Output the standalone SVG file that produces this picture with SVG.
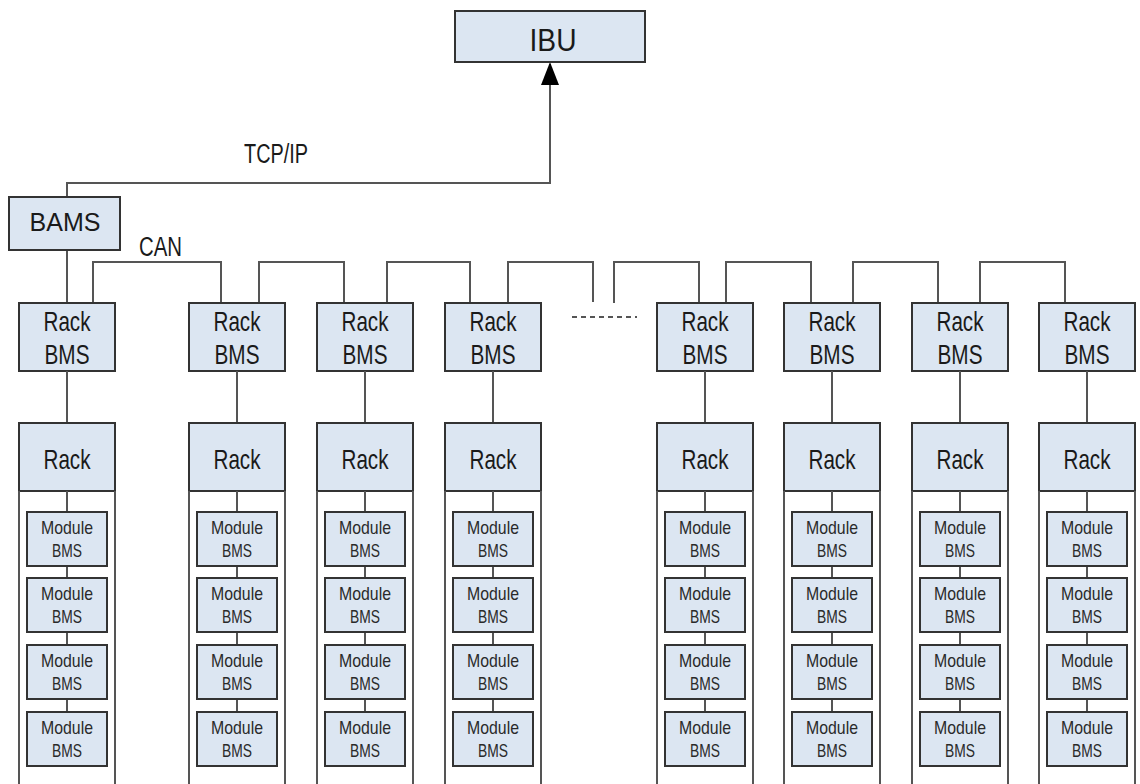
<svg xmlns="http://www.w3.org/2000/svg" width="1140" height="784" viewBox="0 0 1140 784">
<style>
.box{fill:#dce6f2;stroke:#333;stroke-width:2}
.ln{fill:none;stroke:#555;stroke-width:2}
.t{font-family:"Liberation Sans",Arial,sans-serif;fill:#1a1a1a;text-anchor:middle}
.c{font-size:28.5px}
.m{font-size:19px;fill:#2a2a2a}
.lbl{font-family:"Liberation Sans",Arial,sans-serif;fill:#1a1a1a;font-size:27px}
</style>
<defs>
<g id="mod">
<rect class="box" x="0" y="0" width="80" height="54"/>
</g>
</defs>
<rect width="1140" height="784" fill="#fff"/>

<g id="connectors">
<path class="ln" d="M67 250 V183 H550 V64"/>
<path d="M550 62 L559 85 L541 85 Z" fill="#000"/>
<path class="ln" d="M67 250 V303"/>
<path class="ln" d="M93 303 V262 H221 V303"/>
<path class="ln" d="M259 303 V262 H344 V303"/>
<path class="ln" d="M387 303 V262 H470 V303"/>
<path class="ln" d="M508 303 V262 H593 V302"/>
<path class="ln" d="M614 303 V262 H699 V303"/>
<path class="ln" d="M726 303 V262 H811 V303"/>
<path class="ln" d="M853 303 V262 H938 V303"/>
<path class="ln" d="M980 303 V262 H1065 V303"/>
<path class="ln" d="M572 317 H637" stroke="#333" stroke-dasharray="5 4"/>
</g>

<g id="IBU">
<rect class="box" x="455" y="11" width="190" height="51"/>
<text class="t" x="553" y="50.5" font-size="31" textLength="47" lengthAdjust="spacingAndGlyphs">IBU</text>
</g>

<g id="BAMS">
<rect class="box" x="9" y="197" width="111" height="53"/>
<text class="t" x="65" y="231" font-size="25">BAMS</text>
</g>

<text class="lbl" x="244" y="162.5" textLength="64" lengthAdjust="spacingAndGlyphs">TCP/IP</text>
<text class="lbl" x="139" y="256" font-size="25" textLength="43" lengthAdjust="spacingAndGlyphs">CAN</text>

<g id="col1" transform="translate(19,0)">
<rect class="box" x="0" y="303" width="96" height="68"/>
<text class="t c" x="48" y="331" textLength="47" lengthAdjust="spacingAndGlyphs">Rack</text>
<text class="t c" x="48" y="364" textLength="45" lengthAdjust="spacingAndGlyphs">BMS</text>
<path class="ln" d="M48 371 V423"/>
<rect class="box" x="0" y="423" width="96" height="68"/>
<text class="t c" x="48" y="469" textLength="47" lengthAdjust="spacingAndGlyphs">Rack</text>
<path class="ln" d="M0 491 V786 M96 491 V786 M48 491 V512 M48 566 V578 M48 632 V645 M48 699 V712"/>
<g transform="translate(8,512)"><use href="#mod"/><text class="t m" x="40" y="21.5" textLength="52" lengthAdjust="spacingAndGlyphs">Module</text><text class="t m" x="40" y="44.5" textLength="30" lengthAdjust="spacingAndGlyphs">BMS</text></g>
<g transform="translate(8,578)"><use href="#mod"/><text class="t m" x="40" y="21.5" textLength="52" lengthAdjust="spacingAndGlyphs">Module</text><text class="t m" x="40" y="44.5" textLength="30" lengthAdjust="spacingAndGlyphs">BMS</text></g>
<g transform="translate(8,645)"><use href="#mod"/><text class="t m" x="40" y="21.5" textLength="52" lengthAdjust="spacingAndGlyphs">Module</text><text class="t m" x="40" y="44.5" textLength="30" lengthAdjust="spacingAndGlyphs">BMS</text></g>
<g transform="translate(8,712)"><use href="#mod"/><text class="t m" x="40" y="21.5" textLength="52" lengthAdjust="spacingAndGlyphs">Module</text><text class="t m" x="40" y="44.5" textLength="30" lengthAdjust="spacingAndGlyphs">BMS</text></g>
</g>

<g id="col2" transform="translate(189,0)">
<rect class="box" x="0" y="303" width="96" height="68"/>
<text class="t c" x="48" y="331" textLength="47" lengthAdjust="spacingAndGlyphs">Rack</text>
<text class="t c" x="48" y="364" textLength="45" lengthAdjust="spacingAndGlyphs">BMS</text>
<path class="ln" d="M48 371 V423"/>
<rect class="box" x="0" y="423" width="96" height="68"/>
<text class="t c" x="48" y="469" textLength="47" lengthAdjust="spacingAndGlyphs">Rack</text>
<path class="ln" d="M0 491 V786 M96 491 V786 M48 491 V512 M48 566 V578 M48 632 V645 M48 699 V712"/>
<g transform="translate(8,512)"><use href="#mod"/><text class="t m" x="40" y="21.5" textLength="52" lengthAdjust="spacingAndGlyphs">Module</text><text class="t m" x="40" y="44.5" textLength="30" lengthAdjust="spacingAndGlyphs">BMS</text></g>
<g transform="translate(8,578)"><use href="#mod"/><text class="t m" x="40" y="21.5" textLength="52" lengthAdjust="spacingAndGlyphs">Module</text><text class="t m" x="40" y="44.5" textLength="30" lengthAdjust="spacingAndGlyphs">BMS</text></g>
<g transform="translate(8,645)"><use href="#mod"/><text class="t m" x="40" y="21.5" textLength="52" lengthAdjust="spacingAndGlyphs">Module</text><text class="t m" x="40" y="44.5" textLength="30" lengthAdjust="spacingAndGlyphs">BMS</text></g>
<g transform="translate(8,712)"><use href="#mod"/><text class="t m" x="40" y="21.5" textLength="52" lengthAdjust="spacingAndGlyphs">Module</text><text class="t m" x="40" y="44.5" textLength="30" lengthAdjust="spacingAndGlyphs">BMS</text></g>
</g>

<g id="col3" transform="translate(317,0)">
<rect class="box" x="0" y="303" width="96" height="68"/>
<text class="t c" x="48" y="331" textLength="47" lengthAdjust="spacingAndGlyphs">Rack</text>
<text class="t c" x="48" y="364" textLength="45" lengthAdjust="spacingAndGlyphs">BMS</text>
<path class="ln" d="M48 371 V423"/>
<rect class="box" x="0" y="423" width="96" height="68"/>
<text class="t c" x="48" y="469" textLength="47" lengthAdjust="spacingAndGlyphs">Rack</text>
<path class="ln" d="M0 491 V786 M96 491 V786 M48 491 V512 M48 566 V578 M48 632 V645 M48 699 V712"/>
<g transform="translate(8,512)"><use href="#mod"/><text class="t m" x="40" y="21.5" textLength="52" lengthAdjust="spacingAndGlyphs">Module</text><text class="t m" x="40" y="44.5" textLength="30" lengthAdjust="spacingAndGlyphs">BMS</text></g>
<g transform="translate(8,578)"><use href="#mod"/><text class="t m" x="40" y="21.5" textLength="52" lengthAdjust="spacingAndGlyphs">Module</text><text class="t m" x="40" y="44.5" textLength="30" lengthAdjust="spacingAndGlyphs">BMS</text></g>
<g transform="translate(8,645)"><use href="#mod"/><text class="t m" x="40" y="21.5" textLength="52" lengthAdjust="spacingAndGlyphs">Module</text><text class="t m" x="40" y="44.5" textLength="30" lengthAdjust="spacingAndGlyphs">BMS</text></g>
<g transform="translate(8,712)"><use href="#mod"/><text class="t m" x="40" y="21.5" textLength="52" lengthAdjust="spacingAndGlyphs">Module</text><text class="t m" x="40" y="44.5" textLength="30" lengthAdjust="spacingAndGlyphs">BMS</text></g>
</g>

<g id="col4" transform="translate(445,0)">
<rect class="box" x="0" y="303" width="96" height="68"/>
<text class="t c" x="48" y="331" textLength="47" lengthAdjust="spacingAndGlyphs">Rack</text>
<text class="t c" x="48" y="364" textLength="45" lengthAdjust="spacingAndGlyphs">BMS</text>
<path class="ln" d="M48 371 V423"/>
<rect class="box" x="0" y="423" width="96" height="68"/>
<text class="t c" x="48" y="469" textLength="47" lengthAdjust="spacingAndGlyphs">Rack</text>
<path class="ln" d="M0 491 V786 M96 491 V786 M48 491 V512 M48 566 V578 M48 632 V645 M48 699 V712"/>
<g transform="translate(8,512)"><use href="#mod"/><text class="t m" x="40" y="21.5" textLength="52" lengthAdjust="spacingAndGlyphs">Module</text><text class="t m" x="40" y="44.5" textLength="30" lengthAdjust="spacingAndGlyphs">BMS</text></g>
<g transform="translate(8,578)"><use href="#mod"/><text class="t m" x="40" y="21.5" textLength="52" lengthAdjust="spacingAndGlyphs">Module</text><text class="t m" x="40" y="44.5" textLength="30" lengthAdjust="spacingAndGlyphs">BMS</text></g>
<g transform="translate(8,645)"><use href="#mod"/><text class="t m" x="40" y="21.5" textLength="52" lengthAdjust="spacingAndGlyphs">Module</text><text class="t m" x="40" y="44.5" textLength="30" lengthAdjust="spacingAndGlyphs">BMS</text></g>
<g transform="translate(8,712)"><use href="#mod"/><text class="t m" x="40" y="21.5" textLength="52" lengthAdjust="spacingAndGlyphs">Module</text><text class="t m" x="40" y="44.5" textLength="30" lengthAdjust="spacingAndGlyphs">BMS</text></g>
</g>

<g id="col5" transform="translate(657,0)">
<rect class="box" x="0" y="303" width="96" height="68"/>
<text class="t c" x="48" y="331" textLength="47" lengthAdjust="spacingAndGlyphs">Rack</text>
<text class="t c" x="48" y="364" textLength="45" lengthAdjust="spacingAndGlyphs">BMS</text>
<path class="ln" d="M48 371 V423"/>
<rect class="box" x="0" y="423" width="96" height="68"/>
<text class="t c" x="48" y="469" textLength="47" lengthAdjust="spacingAndGlyphs">Rack</text>
<path class="ln" d="M0 491 V786 M96 491 V786 M48 491 V512 M48 566 V578 M48 632 V645 M48 699 V712"/>
<g transform="translate(8,512)"><use href="#mod"/><text class="t m" x="40" y="21.5" textLength="52" lengthAdjust="spacingAndGlyphs">Module</text><text class="t m" x="40" y="44.5" textLength="30" lengthAdjust="spacingAndGlyphs">BMS</text></g>
<g transform="translate(8,578)"><use href="#mod"/><text class="t m" x="40" y="21.5" textLength="52" lengthAdjust="spacingAndGlyphs">Module</text><text class="t m" x="40" y="44.5" textLength="30" lengthAdjust="spacingAndGlyphs">BMS</text></g>
<g transform="translate(8,645)"><use href="#mod"/><text class="t m" x="40" y="21.5" textLength="52" lengthAdjust="spacingAndGlyphs">Module</text><text class="t m" x="40" y="44.5" textLength="30" lengthAdjust="spacingAndGlyphs">BMS</text></g>
<g transform="translate(8,712)"><use href="#mod"/><text class="t m" x="40" y="21.5" textLength="52" lengthAdjust="spacingAndGlyphs">Module</text><text class="t m" x="40" y="44.5" textLength="30" lengthAdjust="spacingAndGlyphs">BMS</text></g>
</g>

<g id="col6" transform="translate(784,0)">
<rect class="box" x="0" y="303" width="96" height="68"/>
<text class="t c" x="48" y="331" textLength="47" lengthAdjust="spacingAndGlyphs">Rack</text>
<text class="t c" x="48" y="364" textLength="45" lengthAdjust="spacingAndGlyphs">BMS</text>
<path class="ln" d="M48 371 V423"/>
<rect class="box" x="0" y="423" width="96" height="68"/>
<text class="t c" x="48" y="469" textLength="47" lengthAdjust="spacingAndGlyphs">Rack</text>
<path class="ln" d="M0 491 V786 M96 491 V786 M48 491 V512 M48 566 V578 M48 632 V645 M48 699 V712"/>
<g transform="translate(8,512)"><use href="#mod"/><text class="t m" x="40" y="21.5" textLength="52" lengthAdjust="spacingAndGlyphs">Module</text><text class="t m" x="40" y="44.5" textLength="30" lengthAdjust="spacingAndGlyphs">BMS</text></g>
<g transform="translate(8,578)"><use href="#mod"/><text class="t m" x="40" y="21.5" textLength="52" lengthAdjust="spacingAndGlyphs">Module</text><text class="t m" x="40" y="44.5" textLength="30" lengthAdjust="spacingAndGlyphs">BMS</text></g>
<g transform="translate(8,645)"><use href="#mod"/><text class="t m" x="40" y="21.5" textLength="52" lengthAdjust="spacingAndGlyphs">Module</text><text class="t m" x="40" y="44.5" textLength="30" lengthAdjust="spacingAndGlyphs">BMS</text></g>
<g transform="translate(8,712)"><use href="#mod"/><text class="t m" x="40" y="21.5" textLength="52" lengthAdjust="spacingAndGlyphs">Module</text><text class="t m" x="40" y="44.5" textLength="30" lengthAdjust="spacingAndGlyphs">BMS</text></g>
</g>

<g id="col7" transform="translate(912,0)">
<rect class="box" x="0" y="303" width="96" height="68"/>
<text class="t c" x="48" y="331" textLength="47" lengthAdjust="spacingAndGlyphs">Rack</text>
<text class="t c" x="48" y="364" textLength="45" lengthAdjust="spacingAndGlyphs">BMS</text>
<path class="ln" d="M48 371 V423"/>
<rect class="box" x="0" y="423" width="96" height="68"/>
<text class="t c" x="48" y="469" textLength="47" lengthAdjust="spacingAndGlyphs">Rack</text>
<path class="ln" d="M0 491 V786 M96 491 V786 M48 491 V512 M48 566 V578 M48 632 V645 M48 699 V712"/>
<g transform="translate(8,512)"><use href="#mod"/><text class="t m" x="40" y="21.5" textLength="52" lengthAdjust="spacingAndGlyphs">Module</text><text class="t m" x="40" y="44.5" textLength="30" lengthAdjust="spacingAndGlyphs">BMS</text></g>
<g transform="translate(8,578)"><use href="#mod"/><text class="t m" x="40" y="21.5" textLength="52" lengthAdjust="spacingAndGlyphs">Module</text><text class="t m" x="40" y="44.5" textLength="30" lengthAdjust="spacingAndGlyphs">BMS</text></g>
<g transform="translate(8,645)"><use href="#mod"/><text class="t m" x="40" y="21.5" textLength="52" lengthAdjust="spacingAndGlyphs">Module</text><text class="t m" x="40" y="44.5" textLength="30" lengthAdjust="spacingAndGlyphs">BMS</text></g>
<g transform="translate(8,712)"><use href="#mod"/><text class="t m" x="40" y="21.5" textLength="52" lengthAdjust="spacingAndGlyphs">Module</text><text class="t m" x="40" y="44.5" textLength="30" lengthAdjust="spacingAndGlyphs">BMS</text></g>
</g>

<g id="col8" transform="translate(1039,0)">
<rect class="box" x="0" y="303" width="96" height="68"/>
<text class="t c" x="48" y="331" textLength="47" lengthAdjust="spacingAndGlyphs">Rack</text>
<text class="t c" x="48" y="364" textLength="45" lengthAdjust="spacingAndGlyphs">BMS</text>
<path class="ln" d="M48 371 V423"/>
<rect class="box" x="0" y="423" width="96" height="68"/>
<text class="t c" x="48" y="469" textLength="47" lengthAdjust="spacingAndGlyphs">Rack</text>
<path class="ln" d="M0 491 V786 M96 491 V786 M48 491 V512 M48 566 V578 M48 632 V645 M48 699 V712"/>
<g transform="translate(8,512)"><use href="#mod"/><text class="t m" x="40" y="21.5" textLength="52" lengthAdjust="spacingAndGlyphs">Module</text><text class="t m" x="40" y="44.5" textLength="30" lengthAdjust="spacingAndGlyphs">BMS</text></g>
<g transform="translate(8,578)"><use href="#mod"/><text class="t m" x="40" y="21.5" textLength="52" lengthAdjust="spacingAndGlyphs">Module</text><text class="t m" x="40" y="44.5" textLength="30" lengthAdjust="spacingAndGlyphs">BMS</text></g>
<g transform="translate(8,645)"><use href="#mod"/><text class="t m" x="40" y="21.5" textLength="52" lengthAdjust="spacingAndGlyphs">Module</text><text class="t m" x="40" y="44.5" textLength="30" lengthAdjust="spacingAndGlyphs">BMS</text></g>
<g transform="translate(8,712)"><use href="#mod"/><text class="t m" x="40" y="21.5" textLength="52" lengthAdjust="spacingAndGlyphs">Module</text><text class="t m" x="40" y="44.5" textLength="30" lengthAdjust="spacingAndGlyphs">BMS</text></g>
</g>
</svg>
